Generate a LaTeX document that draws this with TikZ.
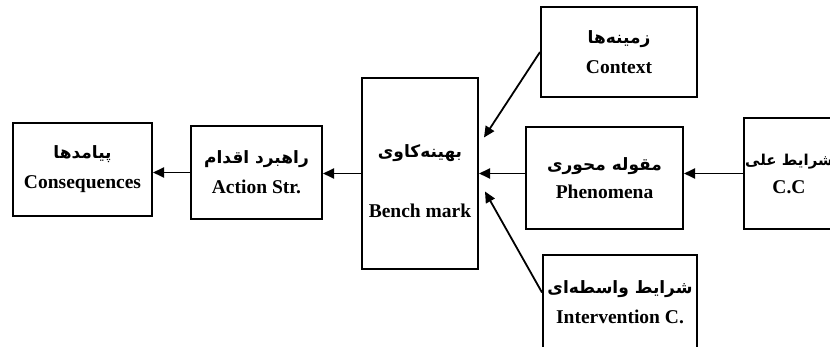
\documentclass[tikz,border=0pt]{standalone}
\usepackage{fontspec}
\setmainfont{Liberation Serif}
\newfontfamily\farsifont[Script=Arabic]{DejaVu Sans}
\TeXXeTstate=1
\usetikzlibrary{arrows.meta}

\newcommand{\fatext}[1]{{\farsifont\bfseries\fontsize{8.5}{10}\selectfont\beginR #1\endR}}

\tikzset{
    box/.style={draw, rectangle, line width=1pt, align=center, inner sep=0pt, fill=white,
        font=\bfseries\fontsize{9.75}{12}\selectfont},
    arr/.style={-{Triangle[length=5.5pt,width=5pt]}, line width=0.9pt}
}

\begin{document}
\begin{tikzpicture}[x=0.5pt, y=-0.5pt]
\useasboundingbox (0,0) rectangle (830,347);

% Boxes
\node[box, minimum width=69.5pt, minimum height=46.5pt] (Conseq) at (82.5,169.5) {
    \fatext{پیامدها}\\[3pt]
    Consequences
};
\node[box, minimum width=65.5pt, minimum height=46.5pt] (Action) at (256.5,172.5) {
    \fatext{راهبرد اقدام}\\[3pt]
    Action Str.
};
\node[box, minimum width=58pt, minimum height=95.5pt] (Bench) at (420,173.5) {
    \mbox{}\\[2pt]
    \fatext{بهینه‌کاوی}\\[18pt]
    Bench mark
};
\node[box, minimum width=78pt, minimum height=45pt] (Context) at (619,52) {
    \fatext{زمینه‌ها}\\[3pt]
    Context
};
\node[box, minimum width=78.5pt, minimum height=51pt] (Phenomena) at (604.5,178) {
    \fatext{مقوله محوری}\\[2pt]
    Phenomena
};
\node[box, minimum width=77pt, minimum height=47.5pt] (Intervention) at (620,302.5) {
    \fatext{شرایط واسطه‌ای}\\[3pt]
    Intervention C.
};
\node[box, minimum width=45pt, minimum height=55.5pt] (CausalC) at (789,173.5) {
    {\farsifont\bfseries\fontsize{7.5}{10}\selectfont\beginR شرایط علی\endR}\\[2pt]
    C.C
};

% Connectors
\draw[arr] (CausalC.west) -- (CausalC.west -| Phenomena.east);
\draw[arr] (Phenomena.west |- Bench.east) -- (Bench.east);
\draw[arr] (Context.west) -- ([xshift=2.5pt, yshift=18pt]Bench.east);
\draw[arr] ([yshift=5pt]Intervention.west) -- ([xshift=3pt, yshift=-9pt]Bench.east);
\draw[arr] (Bench.west) -- (Bench.west -| Action.east);
\draw[arr] (Action.west) -- (Action.west -| Conseq.east);

\end{tikzpicture}
\end{document}
